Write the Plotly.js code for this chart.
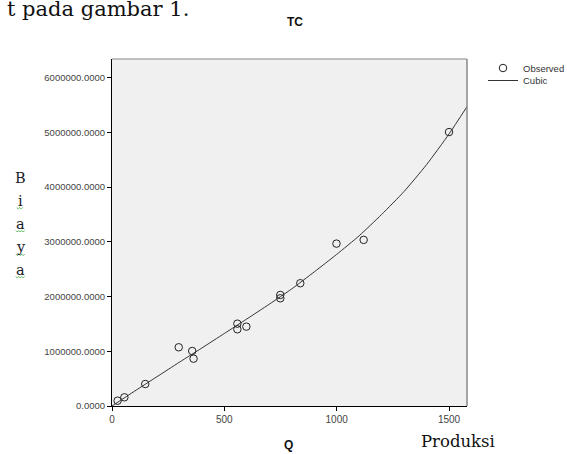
<!DOCTYPE html>
<html>
<head>
<meta charset="utf-8">
<script src="https://cdn.plot.ly/plotly-3.0.1.min.js"></script>
<style>html,body{margin:0;padding:0;background:#fff;}#chart{width:567px;height:454px;}</style>
</head>
<body>
<div id="chart"></div>
<script>
// Observed data (Q = Produksi, TC = Biaya)
const qObserved = [25, 55, 148, 297, 357, 363, 558, 558, 598, 749, 749, 838, 999, 1120, 1500];
const tcObserved = [97000, 159000, 402000, 1073000, 1005000, 865000, 1504000, 1402000, 1450000, 2029000, 1968000, 2243000, 2967000, 3035000, 5005000];
// Cubic fit line
const qCubic = [0, 100, 200, 300, 400, 500, 600, 700, 800, 900, 1000, 1100, 1200, 1300, 1400, 1500, 1580];
const tcCubic = [0, 270000, 535000, 800000, 1060000, 1325000, 1590000, 1860000, 2140000, 2450000, 2770000, 3110000, 3500000, 3920000, 4410000, 4970000, 5470000];
// Tick labels
const xTickVals = [0, 500, 1000, 1500];
const xTickText = ["0", "500", "1000", "1500"];
const yTickVals = [0, 1000000, 2000000, 3000000, 4000000, 5000000, 6000000];
const yTickText = ["0.0000", "1000000.0000", "2000000.0000", "3000000.0000", "4000000.0000", "5000000.0000", "6000000.0000"];

const W = 567, H = 454;
const M = {l: 111.5, r: 99.5, t: 59, b: 48, autoexpand: false};
const pw = W - M.l - M.r, ph = H - M.t - M.b;
const px = x => (x - M.l) / pw;
const py = y => (H - M.b - y) / ph;

const sans = 'Liberation Sans, Arial, sans-serif';
const serif = 'DejaVu Serif, serif';

const traces = [
  {
    x: qObserved, y: tcObserved, type: 'scatter', mode: 'markers', name: 'Observed',
    marker: {symbol: 'circle-open', size: 7.5, color: '#222', line: {width: 1, color: '#222'}},
    legend: 'legend', cliponaxis: false
  },
  {
    x: qCubic, y: tcCubic, type: 'scatter', mode: 'lines', name: 'Cubic',
    line: {color: '#333', width: 1, shape: 'spline', smoothing: 0.6},
    legend: 'legend2'
  }
];

const biaya = ['B', 'i', 'a', 'y', 'a'];
const biayaY = [178, 201, 224, 247, 270];
function ann(text, x, y, font, extra) {
  return Object.assign({text: text, x: px(x), y: py(y), xref: 'paper', yref: 'paper',
    xanchor: 'center', yanchor: 'middle', showarrow: false, font: font}, extra || {});
}
const annotations = [
  ann('<b>TC</b>', 295, 22, {family: sans, size: 12, color: '#111'}),
  ann('<b>Q</b>', 288, 445, {family: sans, size: 12, color: '#111'}),
  ann('Produksi', 458, 441, {family: serif, size: 16.5, color: '#111'}),
  ann('t pada gambar 1.', 191, 9, {family: serif, size: 21, color: '#111'}, {xanchor: 'right'})
];
biaya.forEach((ch, i) => {
  annotations.push(ann(ch, 20, biayaY[i], {family: serif, size: 14.5, color: '#1a1a2a'}));
});

// spell-check style wavy underlines under the y-label letters (decoration)
function squiggle(cx, cy, half) {
  let d = '';
  let k = 0;
  for (let x = cx - half; x <= cx + half + 0.01; x += 1.5, k++) {
    const y = cy + (k % 2 ? 1 : -0.5);
    d += (k === 0 ? 'M' : 'L') + px(x).toFixed(4) + ',' + py(y).toFixed(4);
  }
  return {type: 'path', xref: 'paper', yref: 'paper', path: d, line: {color: '#3aa43a', width: 0.8}};
}
const squiggles = [squiggle(19, 208, 3), squiggle(19.5, 231, 4.5), squiggle(19.5, 254.5, 4.5), squiggle(19.5, 277, 4.5)];

const layout = {
  width: W, height: H, margin: M,
  paper_bgcolor: '#fff', plot_bgcolor: '#f0f0f0',
  showlegend: true,
  xaxis: {
    range: [0, 1580], tickvals: xTickVals, ticktext: xTickText, automargin: false,
    showgrid: false, zeroline: false, showline: true, linecolor: '#000', linewidth: 1,
    ticks: 'outside', ticklen: 4, tickcolor: '#000',
    tickfont: {family: sans, size: 10, color: '#444'}
  },
  yaxis: {
    range: [0, 6340000], tickvals: yTickVals, ticktext: yTickText, automargin: false,
    showgrid: false, zeroline: false, showline: true, linecolor: '#000', linewidth: 1,
    ticks: 'outside', ticklen: 4, tickcolor: '#000',
    tickfont: {family: sans, size: 9.5, color: '#444'}
  },
  legend: {xref: 'container', yref: 'container', x: 483 / W, y: 1 - 68 / H, xanchor: 'left', yanchor: 'middle',
    bgcolor: 'rgba(0,0,0,0)', font: {family: sans, size: 9.5, color: '#333'}},
  legend2: {xref: 'container', yref: 'container', x: 483 / W, y: 1 - 80.5 / H, xanchor: 'left', yanchor: 'middle',
    bgcolor: 'rgba(0,0,0,0)', font: {family: sans, size: 9.5, color: '#333'}},
  shapes: [
    {type: 'line', xref: 'paper', yref: 'paper', x0: 0, x1: 1, y0: 1, y1: 1, line: {color: '#888', width: 1.2}},
    {type: 'line', xref: 'paper', yref: 'paper', x0: 1, x1: 1, y0: 0, y1: 1, line: {color: '#888', width: 1.5}}
  ].concat(squiggles),
  annotations: annotations
};

Plotly.newPlot('chart', traces, layout, {displayModeBar: false, staticPlot: true});
</script>
</body>
</html>
